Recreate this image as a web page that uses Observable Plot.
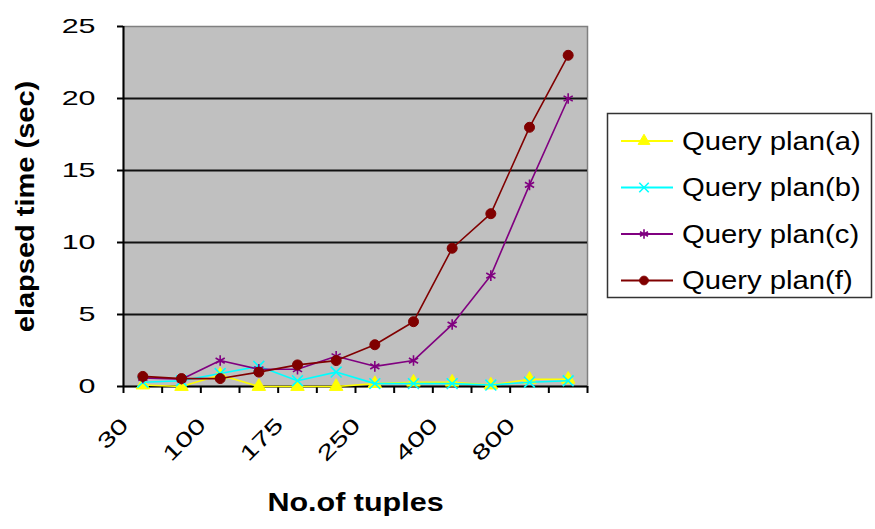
<!DOCTYPE html>
<html><head><meta charset="utf-8">
<script src="https://cdn.jsdelivr.net/npm/d3@7"></script>
<script src="https://cdn.jsdelivr.net/npm/@observablehq/plot@0.6"></script>
<style>
body{margin:0;background:#fff;}
#wrap{position:relative;width:875px;height:529px;}
#wrap svg{position:absolute;left:0;top:0;}
</style>
</head><body><div id="wrap"></div>
<script>
// Category tick labels (only every other category is labelled)
const categories = ["30","","100","","175","","250","","400","","800",""];
const yTicks = [0,5,10,15,20,25];
const gridValues = [5,10,15,20];

const planA = [0.1, 0.0, 0.8, 0.0, 0.0, 0.0, 0.2, 0.3, 0.3, 0.1, 0.5, 0.5];
const planB = [0.3, 0.4, 0.9, 1.4, 0.4, 1.0, 0.2, 0.2, 0.2, 0.1, 0.3, 0.4];
const planC = [0.6, 0.5, 1.8, 1.2, 1.2, 2.1, 1.4, 1.8, 4.3, 7.7, 14.0, 20.0];
const planF = [0.7, 0.55, 0.55, 1.0, 1.5, 1.8, 2.9, 4.5, 9.6, 12.0, 18.0, 23.0];

const seriesNames = ["Query plan(a)","Query plan(b)","Query plan(c)","Query plan(f)"];
const seriesValues = [planA, planB, planC, planF];
const seriesColors = ["#ffff00","#00ffff","#800080","#800000"];
const seriesSymbols = ["triangle","times","asterisk","circle"];
const seriesFilled = [true,false,false,true];

const idx = d3.range(categories.length);
const series = seriesNames.map((name,k)=>({name, values:seriesValues[k], color:seriesColors[k], symbol:seriesSymbols[k], filled:seriesFilled[k]}));

const seriesMarks = series.flatMap(s => {
  const rows = s.values.map((v,i)=>({i, v}));
  return [
    Plot.line(rows, {x: d=>d.i+0.5, y:"v", stroke:s.color, strokeWidth:1.6}),
    Plot.dot(rows, {x: d=>d.i+0.5, y:"v", symbol:s.symbol, r:5,
      fill: s.filled ? s.color : "none", stroke:s.color, strokeWidth: s.filled ? 1 : 1.6})
  ];
});

const chart = Plot.plot({
  width: 875, height: 529,
  marginLeft: 123, marginRight: 288, marginTop: 26, marginBottom: 143,
  x: {domain:[0,12], axis:null, label:null},
  y: {domain:[0,25], axis:null, label:null},
  style: {fontFamily:"'Liberation Sans', Arial, sans-serif", background:"transparent", color:"#000", overflow:"visible"},
  marks: [
    Plot.frame({fill:"#c0c0c0", stroke:"#808080", strokeWidth:1.5}),
    Plot.ruleY(gridValues, {stroke:"#111", strokeWidth:2}),
    Plot.axisY({ticks: yTicks, tickSize:6, tickFormat:()=>"", strokeWidth:2, label:null}),
    Plot.axisX({ticks: d3.range(13), tickSize:7, tickFormat:()=>"", strokeWidth:2, label:null}),
    Plot.ruleX([0], {stroke:"#000", strokeWidth:2}),
    Plot.ruleY([0], {stroke:"#000", strokeWidth:2}),
    Plot.text(yTicks, {y:d=>d, text:d=>String(d), frameAnchor:"left", textAnchor:"end", dx:-28, fontSize:21, fill:"#000", className:"s145"}),
    Plot.text(idx.filter(i=>categories[i]), {x:i=>i+0.5, text:i=>categories[i], frameAnchor:"bottom", rotate:-45, textAnchor:"end", dx:-13, dy:40, fontSize:21, fill:"#000", className:"s145"}),
    Plot.text(["elapsed time (sec)"], {frameAnchor:"left", dx:-98, rotate:-90, textAnchor:"middle", fontWeight:"bold", fontSize:25, fill:"#000", className:"s116"}),
    Plot.text(["No.of tuples"], {frameAnchor:"bottom", dy:124, textAnchor:"middle", fontWeight:"bold", fontSize:25, fill:"#000", className:"s122"}),
    ...seriesMarks
  ]
});
document.getElementById("wrap").appendChild(chart);

// Legend
const lg = d3.select("#wrap").append("svg").attr("width",875).attr("height",529)
  .style("font-family","'Liberation Sans', Arial, sans-serif");
lg.append("rect").attr("x",607.5).attr("y",113.5).attr("width",264).attr("height",184)
  .attr("fill","#fff").attr("stroke","#333").attr("stroke-width",1.5);
const symMap = {triangle:d3.symbolTriangle, times:d3.symbolTimes, asterisk:d3.symbolAsterisk, circle:d3.symbolCircle};
series.forEach((s,k)=>{
  const y = 141 + k*46.5;
  lg.append("line").attr("x1",621).attr("x2",673).attr("y1",y).attr("y2",y).attr("stroke",s.color).attr("stroke-width",2);
  lg.append("path").attr("d", d3.symbol(symMap[s.symbol], 60)()).attr("transform",`translate(644,${y})`)
    .attr("fill", s.filled ? s.color : "none").attr("stroke", s.color).attr("stroke-width", s.filled?1:1.6);
  lg.append("text").attr("class","legtext").attr("x",682).attr("y",y).attr("dy","0.35em")
    .attr("font-size",25).attr("fill","#000").text(s.name);
});

function stretch(sel, k){
  document.querySelectorAll(sel).forEach(t=>{
    const L = t.getComputedTextLength();
    if (L>0){ t.setAttribute("textLength", L*k); t.setAttribute("lengthAdjust","spacingAndGlyphs"); }
  });
}
stretch(".s145 text", 1.45);
stretch(".s116 text", 1.16);
stretch(".s122 text", 1.22);
stretch("text.legtext", 1.17);
</script>
</body></html>
